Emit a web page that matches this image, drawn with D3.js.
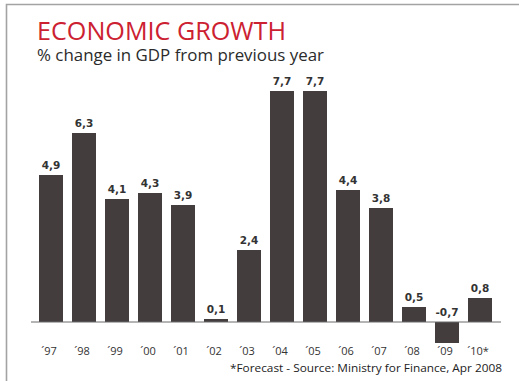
<!DOCTYPE html>
<html>
<head>
<meta charset="utf-8">
<script src="https://cdn.jsdelivr.net/npm/d3@7"></script>
<style>
  body { margin: 0; background: #fff; }
  svg { display: block; }
</style>
</head>
<body>
<div id="chart"></div>
<script>
// chart data
const years = ["´97", "´98", "´99", "´00", "´01", "´02", "´03", "´04", "´05", "´06", "´07", "´08", "´09", "´10*"];
const growth = [4.9, 6.3, 4.1, 4.3, 3.9, 0.1, 2.4, 7.7, 7.7, 4.4, 3.8, 0.5, -0.7, 0.8];
const title = "ECONOMIC GROWTH";
const subtitle = "% change in GDP from previous year";
const footnote = "*Forecast - Source: Ministry for Finance, Apr 2008";

const width = 519;
const height = 381;

const svg = d3.select("#chart").append("svg")
  .attr("width", width)
  .attr("height", height);

// frame (top and left edges only)
svg.append("path")
  .attr("d", "M6.5,381V4.5H519")
  .attr("fill", "none")
  .attr("stroke", "#a3a3a3")
  .attr("stroke-width", 1.6);

// squeeze a text horizontally to the width it has in the original
function squeeze(sel, w) {
  sel.attr("textLength", w).attr("lengthAdjust", "spacingAndGlyphs");
}

svg.append("text")
  .attr("x", 37).attr("y", 40)
  .attr("font-family", "'Open Sans', sans-serif")
  .attr("font-size", 26)
  .attr("fill", "#cc2131")
  .text(title)
  .call(squeeze, 249);

svg.append("text")
  .attr("x", 37).attr("y", 61)
  .attr("font-family", "'Open Sans', sans-serif")
  .attr("font-size", 17)
  .attr("fill", "#2b2b2b")
  .text(subtitle)
  .call(squeeze, 287);

const x = d3.scaleBand()
  .domain(years)
  .range([34.5, 496.5])
  .paddingInner(9 / 33)
  .paddingOuter(4.5 / 33);

const y = d3.scaleLinear()
  .domain([0, 7.7])
  .range([322, 91]);

const fmt = v => String(v).replace(".", ",");

svg.append("g")
  .selectAll("rect")
  .data(growth)
  .join("rect")
  .attr("x", (d, i) => x(years[i]))
  .attr("width", x.bandwidth())
  .attr("y", d => y(Math.max(0, d)))
  .attr("height", d => Math.abs(y(d) - y(0)))
  .attr("fill", "#433d3e");

// baseline
svg.append("line")
  .attr("x1", 31).attr("x2", 501)
  .attr("y1", y(0)).attr("y2", y(0))
  .attr("stroke", "#6b6b6b")
  .attr("stroke-width", 1);

// value labels
svg.append("g")
  .selectAll("text")
  .data(growth)
  .join("text")
  .attr("x", (d, i) => x(years[i]) + x.bandwidth() / 2)
  .attr("y", d => y(Math.max(0, d)) - 6)
  .attr("text-anchor", "middle")
  .attr("font-family", "'DejaVu Sans', sans-serif")
  .attr("font-weight", "bold")
  .attr("font-size", 10.5)
  .attr("fill", "#333")
  .text(fmt);

// year axis
const axis = svg.append("g")
  .attr("transform", "translate(0,355)")
  .call(d3.axisBottom(x).tickSize(0).tickPadding(0));
axis.select(".domain").remove();
axis.selectAll("text")
  .attr("dy", 0)
  .attr("dx", -2)
  .attr("font-family", "'Open Sans', sans-serif")
  .attr("font-size", 11)
  .attr("fill", "#333");

svg.append("text")
  .attr("x", 502).attr("y", 372)
  .attr("text-anchor", "end")
  .attr("font-family", "'Open Sans', sans-serif")
  .attr("font-size", 11)
  .attr("fill", "#222")
  .text(footnote)
  .call(squeeze, 272);
</script>
</body>
</html>
